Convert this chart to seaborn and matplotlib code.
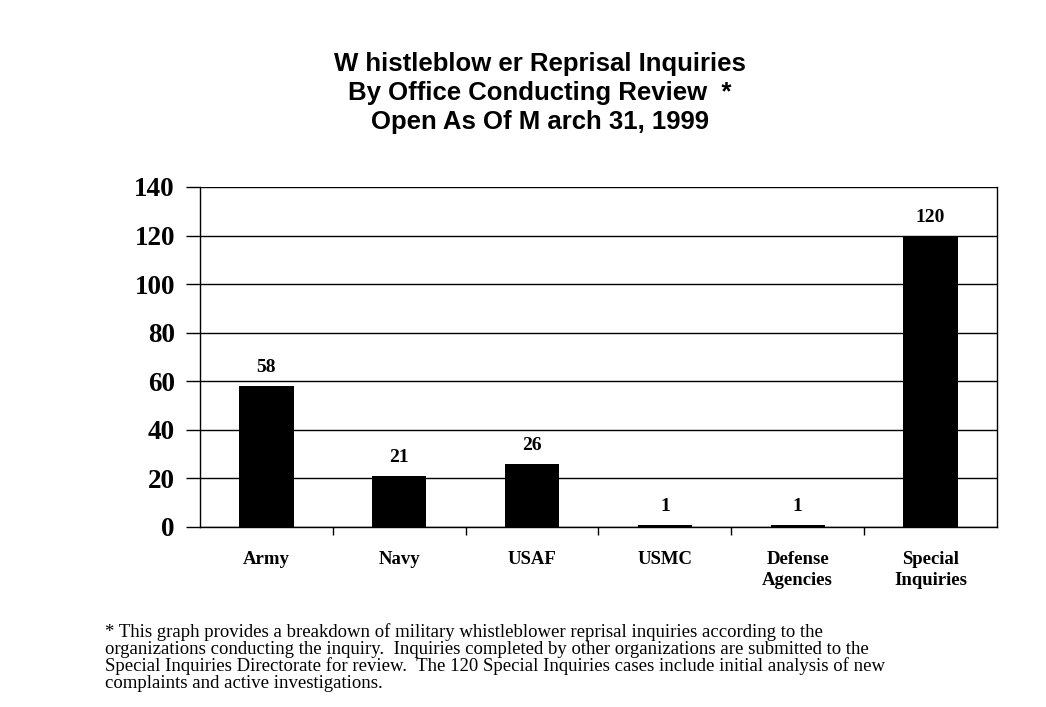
import matplotlib
matplotlib.use("Agg")
import matplotlib.pyplot as plt
import numpy as np
import pandas as pd
import seaborn as sns

# 数据：各办公室正在审查的举报人报复调查数量
offices = ["Army", "Navy", "USAF", "USMC", "Defense\nAgencies", "Special\nInquiries"]
open_cases = [58, 21, 26, 1, 1, 120]
y_ticks = [0, 20, 40, 60, 80, 100, 120, 140]

title_lines = [
    "W histleblow er Reprisal Inquiries",
    "By Office Conducting Review  *",
    "Open As Of M arch 31, 1999",
]
footnote_lines = [
    "* This graph provides a breakdown of military whistleblower reprisal inquiries according to the",
    "organizations conducting the inquiry.  Inquiries completed by other organizations are submitted to the",
    "Special Inquiries Directorate for review.  The 120 Special Inquiries cases include initial analysis of new",
    "complaints and active investigations.",
]

sns.set_theme(style="white")
plt.rcParams["font.family"] = ["Liberation Serif", "DejaVu Serif"]
plt.rcParams["text.color"] = "black"

df = pd.DataFrame({"office": offices, "cases": open_cases})

fig = plt.figure(figsize=(10.46, 7.07), dpi=100)
ax = fig.add_axes([200 / 1046, 1 - 527 / 707, (997 - 200) / 1046, (527 - 187) / 707])

sns.barplot(data=df, x="office", y="cases", color="black", width=0.41,
            saturation=1, edgecolor="black", linewidth=0, ax=ax, zorder=3)

ax.set_xlim(-0.5, len(offices) - 0.5)
ax.set_ylim(0, 140)
ax.set_yticks(y_ticks)
ax.set_yticklabels([str(v) for v in y_ticks], fontsize=19.5, fontweight="bold", color="black")
ax.set_xticks(range(len(offices)))
ax.set_xticklabels(offices, fontsize=13.5, fontweight="bold", linespacing=1.3, color="black")
ax.tick_params(axis="x", which="major", length=0, pad=17)
ax.set_xticks(np.arange(0.5, len(offices) - 0.5, 1), minor=True)
ax.tick_params(axis="x", which="minor", length=6, width=1, color="black", direction="out", bottom=True)
ax.tick_params(axis="y", length=10, width=1, color="black", direction="out", left=True, pad=8)
ax.set_xlabel("")
ax.set_ylabel("")

ax.grid(axis="y", color="black", linewidth=1, zorder=0)
for side in ["left", "right", "bottom"]:
    ax.spines[side].set_visible(True)
    ax.spines[side].set_color("black")
    ax.spines[side].set_linewidth(1)
ax.spines["top"].set_visible(False)

for i, v in enumerate(open_cases):
    ax.text(i, v + 4, str(v), ha="center", va="bottom", fontsize=14, fontweight="bold")

for k, line in enumerate(title_lines):
    fig.text(540 / 1046, 1 - (64 + 29 * k) / 707, line, ha="center", va="center",
             fontsize=18.5, fontweight="bold", family=["Liberation Sans", "DejaVu Sans"])

for k, line in enumerate(footnote_lines):
    fig.text(105 / 1046, 1 - (632 + 17 * k) / 707, line, ha="left", va="center", fontsize=13.5)

fig.savefig("out.png", dpi=100, facecolor="white")
